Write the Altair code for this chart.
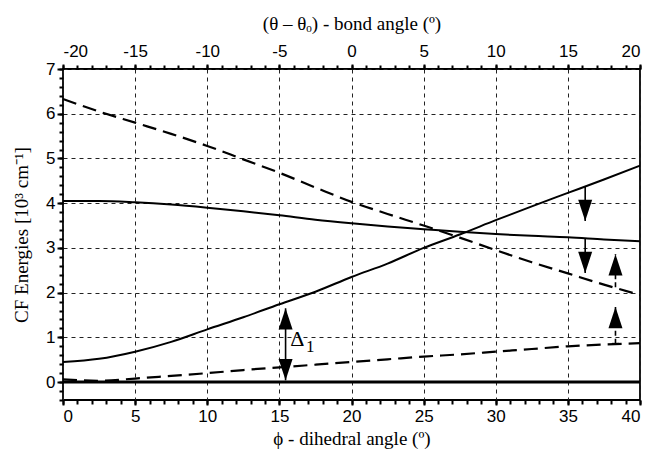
import altair as alt
import pandas as pd

# ---------------- data ----------------
phi = [0, 2.5, 5, 7.5, 10, 12.5, 15, 17.5, 20, 22.5, 25, 27.5, 30, 32.5, 35, 37.5, 40]
rise_solid = [0.45, 0.52, 0.68, 0.90, 1.18, 1.45, 1.74, 2.02, 2.35, 2.65, 3.00, 3.30, 3.62, 3.93, 4.23, 4.53, 4.84]
fall_solid = [4.05, 4.05, 4.02, 3.97, 3.90, 3.82, 3.73, 3.63, 3.55, 3.48, 3.42, 3.36, 3.31, 3.27, 3.24, 3.19, 3.15]
fall_dash = [6.33, 6.05, 5.80, 5.55, 5.28, 4.98, 4.68, 4.35, 4.03, 3.76, 3.50, 3.23, 2.95, 2.68, 2.43, 2.18, 1.95]
rise_dash = [0.06, 0.03, 0.08, 0.14, 0.20, 0.27, 0.33, 0.39, 0.45, 0.51, 0.57, 0.62, 0.68, 0.74, 0.80, 0.84, 0.87]
zero_x = [0, 40]
zero_y = [0, 0]

# arrows: x, start, tip, direction, style
arrow_x = [36.2, 36.2, 38.3, 38.3]
arrow_start = [4.37, 3.22, 2.12, 0.86]
arrow_tip = [3.60, 2.44, 2.86, 1.68]
arrow_dir = ["down", "down", "up", "up"]
arrow_style = ["solid", "solid", "dash", "dash"]

# double arrow Delta_1
delta_x = [15.43]
delta_low = [0.04]
delta_high = [1.65]

# small base bar under the last up-arrow
bar_x1 = [38.05]
bar_x2 = [38.55]
bar_y = [0.86]

# annotation text
label_text = ["Δ", "1"]
label_x = [15.75, 16.85]
label_y = [0.80, 0.67]
label_size = [22, 17]

# axes
x_major = [0, 5, 10, 15, 20, 25, 30, 35, 40]
x_minor = list(range(0, 41))
top_offset = -20  # top axis: bond angle = phi - 20
y_major = [0, 1, 2, 3, 4, 5, 6, 7]
y_minor = [round(-0.4 + 0.2 * i, 1) for i in range(38)]

# ---------------- tables ----------------
solid_df = pd.DataFrame({"phi": phi * 2, "E": rise_solid + fall_solid,
                         "s": ["rise"] * len(phi) + ["fall"] * len(phi)})
dash_df = pd.DataFrame({"phi": phi * 2, "E": fall_dash + rise_dash,
                        "s": ["fall"] * len(phi) + ["rise"] * len(phi)})
zero_df = pd.DataFrame({"phi": zero_x, "E": zero_y})
arrow_df = pd.DataFrame({"x": arrow_x, "y": arrow_start, "y2": arrow_tip,
                         "dir": arrow_dir, "style": arrow_style})
delta_df = pd.DataFrame({"x": delta_x, "lo": delta_low, "hi": delta_high})
head_df = pd.concat([
    pd.DataFrame({"x": arrow_x, "y": arrow_tip, "dir": arrow_dir}),
    pd.DataFrame({"x": delta_x * 2, "y": delta_low + delta_high, "dir": ["down", "up"]}),
], ignore_index=True)
bar_df = pd.DataFrame({"x": bar_x1, "x2": bar_x2, "y": bar_y})
label_df = pd.DataFrame({"t": label_text, "x": label_x, "y": label_y, "size": label_size})

xs = alt.Scale(domain=[0, 40], nice=False, zero=False)
ys = alt.Scale(domain=[-0.4, 7], nice=False, zero=False)

GRID = dict(grid=True, gridColor="#222", gridDash=[4, 4], gridWidth=1, gridOpacity=1)
TICK = dict(ticks=True, tickColor="#000000", tickWidth=2, tickOpacity=1)

# solid curves + main (bottom / left) axes with grid
solid = alt.Chart(solid_df).mark_line(color="black", strokeWidth=2, interpolate="monotone").encode(
    x=alt.X("phi:Q", scale=xs, axis=alt.Axis(
        orient="bottom", values=x_major, title="ϕ - dihedral angle (º)", format="d",
        tickSize=5, labelPadding=3, titlePadding=5, **TICK, **GRID)),
    y=alt.Y("E:Q", scale=ys, axis=alt.Axis(
        orient="left", values=y_major, title="CF Energies [10³ cm⁻¹]", format="d",
        tickSize=6, labelPadding=2, titlePadding=14, **TICK, **GRID)),
    detail="s:N",
)

# dashed curves + top axis
dashed = alt.Chart(dash_df).mark_line(color="black", strokeWidth=2.2, strokeDash=[14, 7],
                                      interpolate="monotone").encode(
    x=alt.X("phi:Q", scale=xs, axis=alt.Axis(
        orient="top", values=x_major, title="(θ – θₒ) - bond angle (º)",
        labelExpr=f"datum.value + ({top_offset})",
        tickSize=5, labelPadding=4, titlePadding=9, grid=False, **TICK)),
    y=alt.Y("E:Q", scale=ys, axis=None),
    detail="s:N",
)

# zero line + minor ticks bottom / left
zero = alt.Chart(zero_df).mark_line(color="black", strokeWidth=3).encode(
    x=alt.X("phi:Q", scale=xs, axis=alt.Axis(
        orient="bottom", values=x_minor, labels=False, title=None, tickSize=4, grid=False, **TICK)),
    y=alt.Y("E:Q", scale=ys, axis=alt.Axis(
        orient="left", values=y_minor, labels=False, title=None, tickSize=4, grid=False, **TICK)),
)

# arrow shafts + minor ticks top
shafts = alt.Chart(arrow_df).mark_rule(color="black", strokeWidth=1.6).encode(
    x=alt.X("x:Q", scale=xs, axis=alt.Axis(
        orient="top", values=x_minor, labels=False, title=None, tickSize=4, grid=False, **TICK)),
    y=alt.Y("y:Q", scale=ys, axis=None),
    y2="y2:Q",
    strokeDash=alt.StrokeDash("style:N", scale=alt.Scale(domain=["solid", "dash"],
                                                         range=[[1, 0], [5, 3]]), legend=None),
)

delta = alt.Chart(delta_df).mark_rule(color="black", strokeWidth=1.6).encode(
    x=alt.X("x:Q", scale=xs, axis=None),
    y=alt.Y("lo:Q", scale=ys, axis=None),
    y2="hi:Q",
)

bar = alt.Chart(bar_df).mark_rule(color="black", strokeWidth=1.6).encode(
    x=alt.X("x:Q", scale=xs, axis=None),
    x2="x2:Q",
    y=alt.Y("y:Q", scale=ys, axis=None),
)

DOWN = "M-0.33,-1L0.33,-1L0,0Z"
UP = "M-0.33,1L0.33,1L0,0Z"
heads = alt.Chart(head_df).mark_point(filled=True, color="black", opacity=1, size=1800, strokeWidth=0).encode(
    x=alt.X("x:Q", scale=xs, axis=None),
    y=alt.Y("y:Q", scale=ys, axis=None),
    shape=alt.Shape("dir:N", scale=alt.Scale(domain=["down", "up"], range=[DOWN, UP]), legend=None),
)

labels = alt.Chart(label_df).mark_text(font="Liberation Serif", color="black",
                                       align="left", baseline="alphabetic").encode(
    x=alt.X("x:Q", scale=xs, axis=None),
    y=alt.Y("y:Q", scale=ys, axis=None),
    text="t:N",
    size=alt.Size("size:Q", scale=None, legend=None),
)

chart = alt.layer(solid, dashed, zero, shafts, delta, bar, heads, labels).resolve_axis(
    x="independent", y="independent"
).properties(
    width=577, height=331,
    padding={"left": 63, "top": 69, "right": 14, "bottom": 50},
    autosize=alt.AutoSizeParams(type="none"),
    background="white",
).configure_view(
    stroke="black", strokeWidth=1.8
).configure_axis(
    labelFont="Liberation Sans", labelFontSize=17, labelColor="black",
    titleFont="Liberation Serif", titleFontSize=19, titleFontWeight="normal", titleColor="black",
    domain=False,
)

chart.save("out.html", embed_options={"renderer": "svg", "actions": False})
